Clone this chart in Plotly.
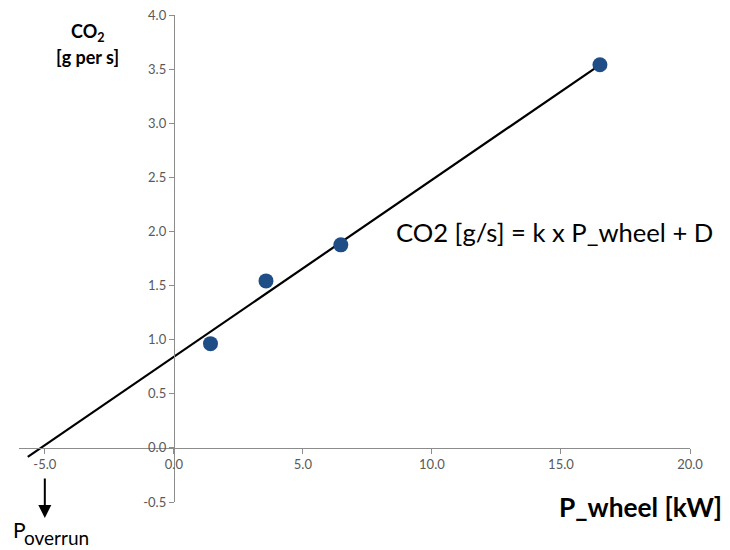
import plotly.graph_objects as go

# data
p_wheel = [1.42, 3.57, 6.47, 16.51]
co2 = [0.963, 1.543, 1.876, 3.54]
k = 0.1634
D = 0.842
fit_x = [-5.66, 16.51]
fit_y = [k * x + D for x in fit_x]
x_ticks = [-5, 0, 5, 10, 15, 20]
y_ticks = [-0.5, 0.0, 0.5, 1.0, 1.5, 2.0, 2.5, 3.0, 3.5, 4.0]

FONT = "Lato"
TICKC = "#595959"
AXC = "#8c8c8c"

fig = go.Figure()
fig.add_trace(go.Scatter(x=fit_x, y=fit_y, mode="lines",
                         line=dict(color="black", width=2.2), hoverinfo="skip"))
fig.add_trace(go.Scatter(x=p_wheel, y=co2, mode="markers",
                         marker=dict(size=15, color="#1f4e86")))

xmin, xmax = -6, 20
ymin, ymax = -0.5, 4.0

# page body has an 8px default margin: figure is sized/offset to compensate
fig.update_layout(
    width=722, height=542,
    margin=dict(l=11, r=40, t=7, b=48, autoexpand=False),
    paper_bgcolor="white", plot_bgcolor="white",
    showlegend=False,
    font=dict(family=FONT, color=TICKC, size=13),
    xaxis=dict(range=[xmin, xmax], anchor="free",
               position=(0 - ymin) / (ymax - ymin),
               tickvals=x_ticks, ticktext=[f"{v:.1f}" for v in x_ticks],
               showline=True, linecolor=AXC, linewidth=1,
               ticks="outside", ticklen=5, tickcolor=AXC,
               showgrid=False, zeroline=False, automargin=False,
               ticklabeloverflow="allow",
               tickfont=dict(family=FONT, size=13, color=TICKC)),
    yaxis=dict(range=[ymin, ymax], anchor="free",
               position=(0 - xmin) / (xmax - xmin),
               tickvals=y_ticks, ticktext=[f"{v:.1f}" for v in y_ticks],
               showline=True, linecolor=AXC, linewidth=1,
               ticks="outside", ticklen=5, tickcolor=AXC,
               showgrid=False, zeroline=False, automargin=False,
               ticklabeloverflow="allow",
               tickfont=dict(family=FONT, size=13, color=TICKC)),
)

def px2x(px):
    return (px - 19) / 671

def py2y(py):
    return (502 - py) / 487

anns = [
    dict(x=px2x(88), y=py2y(33), text="<b>CO<sub>2</sub></b>", xanchor="center", yanchor="middle",
         font=dict(size=18, color="black")),
    dict(x=px2x(87), y=py2y(57), text="<b>[g per s]</b>", xanchor="center", yanchor="middle",
         font=dict(size=18, color="black")),
    dict(x=px2x(394), y=py2y(232), text="CO2 [g/s] = k x P_wheel + D", xanchor="left", yanchor="middle",
         font=dict(size=25.6, color="black")),
    dict(x=px2x(557), y=py2y(507), text="<b>P_wheel [kW]</b>", xanchor="left", yanchor="middle",
         font=dict(size=26.3, color="black")),
    dict(x=px2x(11), y=py2y(529), text="P", xanchor="left", yanchor="middle",
         font=dict(size=21, color="black")),
    dict(x=px2x(22), y=py2y(537), text="overrun", xanchor="left", yanchor="middle",
         font=dict(size=19, color="black")),
]
for a in anns:
    a.update(xref="paper", yref="paper", showarrow=False)
    fig.add_annotation(**a)

fig.add_annotation(x=-5, y=py2y(518), xref="x", yref="paper", text="",
                   showarrow=True, ax=0, ay=-41, arrowhead=2, arrowsize=1.3,
                   arrowwidth=2, arrowcolor="black", standoff=0)

fig.write_html("out.html")
